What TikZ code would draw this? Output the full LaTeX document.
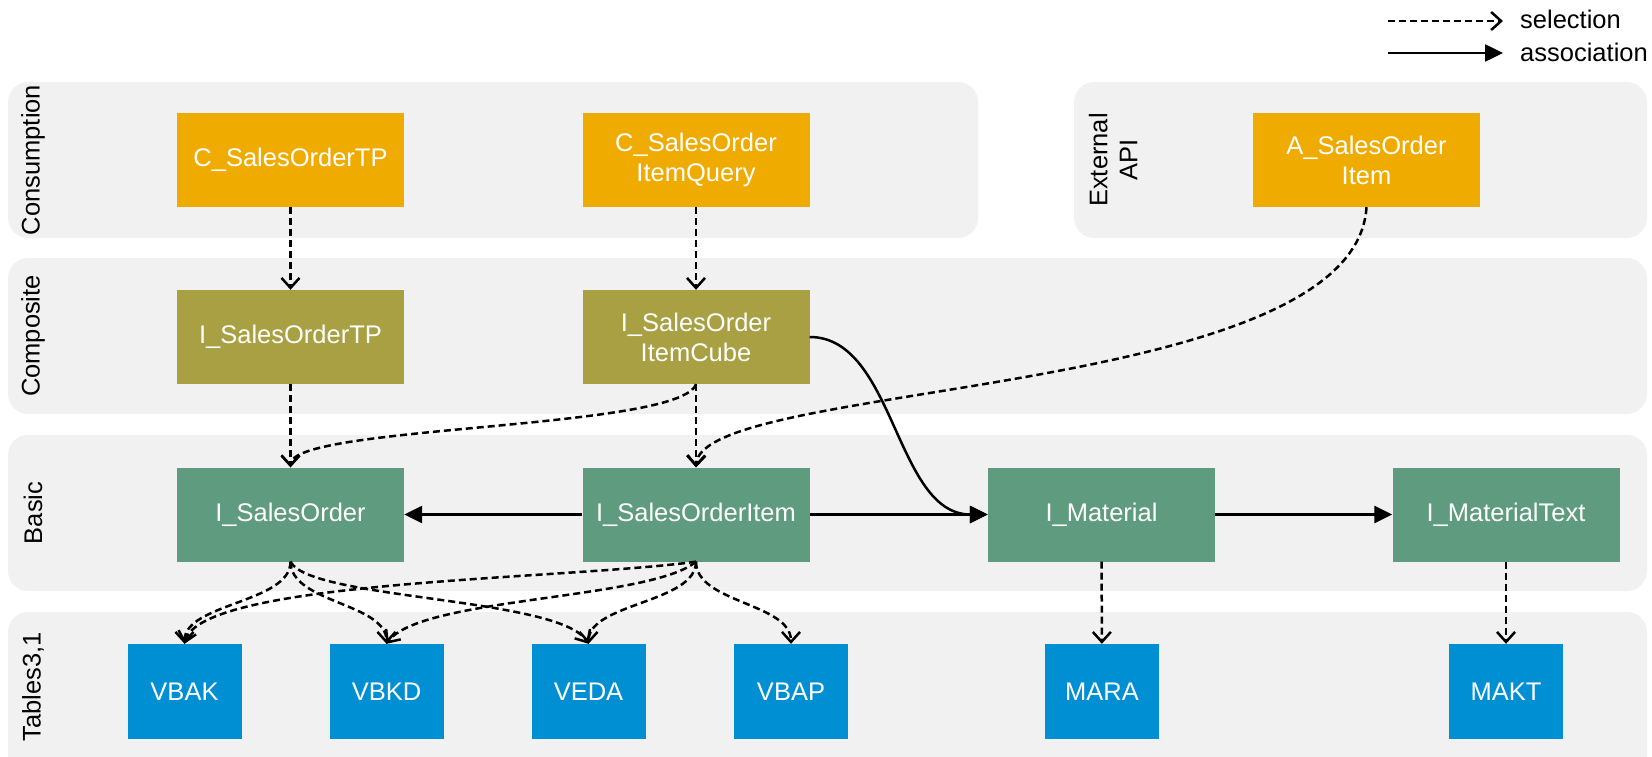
\documentclass[tikz,border=0pt]{standalone}
\usepackage{fontspec}
\setmainfont{Liberation Sans}
\usetikzlibrary{arrows.meta}
\definecolor{panelgray}{HTML}{F1F1F1}
\definecolor{consorange}{HTML}{F0AB00}
\definecolor{compolive}{HTML}{A8A042}
\definecolor{basicgreen}{HTML}{5F9B7E}
\definecolor{tblblue}{HTML}{008FD3}
\newcommand\bxfont{\fontsize{25.5}{30}\selectfont}
\tikzset{
  panel/.style={fill=panelgray, draw=none, rounded corners=20pt},
  nodebox/.style={minimum width=227pt, minimum height=94pt, inner sep=0pt, text=white, font=\bxfont, align=center, draw=none},
  cons/.style={nodebox, fill=consorange},
  comp/.style={nodebox, fill=compolive},
  basicbox/.style={nodebox, fill=basicgreen},
  tbl/.style={nodebox, fill=tblblue, minimum width=114pt, minimum height=95pt},
  layerlabel/.style={rotate=90, font=\bxfont, text=black, align=center, inner sep=0pt},
  legendtext/.style={font=\bxfont, text=black, inner sep=0pt},
  sel/.style={line width=2.5pt, dash pattern=on 7pt off 4pt, -{Straight Barb[length=10pt,width=18pt,line width=2.5pt]}},
  assoc/.style={line width=2.5pt, -{Triangle[length=18pt,width=17pt]}}
}
\begin{document}
\begin{tikzpicture}[x=1pt,y=-1pt]
\useasboundingbox (0,0) rectangle (1652,757);
\clip (0,0) rectangle (1652,757);
% panels
\fill[panel] (8,82) rectangle (978,238);
\fill[panel] (1074,82) rectangle (1647,238);
\fill[panel] (8,258) rectangle (1647,414);
\fill[panel] (8,435) rectangle (1647,591);
\fill[panel] (8,612) rectangle (1647,800);
% layer labels
\node[layerlabel] (lcons) at (33,160) {Consumption};
\node[layerlabel] (lcomp) at (33,336) {Composite};
\node[layerlabel] (lbasic) at (33,513) {Basic};
\node[layerlabel] (ltab) at (33,687) {Tables3,1};
\node[layerlabel] (lapi) at (1113,160) {External\\API};
% legend
\coordinate (sels) at (1388,21);
\coordinate (sele) at (1503,21);
\coordinate (asss) at (1388,53);
\coordinate (asse) at (1503,53);
\draw[sel] (sels) -- (sele);
\draw[assoc] (asss) -- (asse);
\node[legendtext, anchor=base west] (selt) at (1520,29) {selection};
\node[legendtext, anchor=base west] (asst) at (1520,62) {association};
% nodes
\node[cons] (csotp) at (290.5,160) {C\_SalesOrderTP};
\node[cons] (csoiq) at (696,160) {C\_SalesOrder\\ItemQuery};
\node[cons] (asoi) at (1366.5,160) {A\_SalesOrder\\Item};
\node[comp] (isotp) at (290.5,337) {I\_SalesOrderTP};
\node[comp] (cube) at (696,337) {I\_SalesOrder\\ItemCube};
\node[basicbox] (iso) at (290.5,514.5) {I\_SalesOrder};
\node[basicbox] (isoi) at (696,514.5) {I\_SalesOrderItem};
\node[basicbox] (imat) at (1101.5,514.5) {I\_Material};
\node[basicbox] (imatt) at (1506,514.5) {I\_MaterialText};
\node[tbl] (vbak) at (184.5,691.5) {VBAK};
\node[tbl] (vbkd) at (386.5,691.5) {VBKD};
\node[tbl] (veda) at (588.5,691.5) {VEDA};
\node[tbl] (vbap) at (791,691.5) {VBAP};
\node[tbl] (mara) at (1102,691.5) {MARA};
\node[tbl] (makt) at (1506,691.5) {MAKT};
% straight selections
\draw[sel] (csotp) -- (isotp);
\draw[sel] (csoiq) -- (cube);
\draw[sel] (isotp) -- (iso);
\draw[sel] (cube) -- (isoi);
\draw[sel] (imat) -- (mara);
\draw[sel] (imatt) -- (makt);
% curved selections
\draw[sel] (cube.south) .. controls (680,430) and (290.5,425) .. (iso.north);
\draw[sel] (asoi.south) .. controls (1355,400) and (700,380) .. (isoi.north);
\draw[sel] (iso.south) .. controls (290.5,603) and (184.5,603) .. (vbak.north);
\draw[sel] (iso.south) .. controls (290.5,603) and (386.5,603) .. (vbkd.north);
\draw[sel] (iso.south) .. controls (310,600) and (560,597) .. (veda.north);
\draw[sel] (isoi.south) .. controls (560,580) and (200,580) .. (vbak.north);
\draw[sel] (isoi.south) .. controls (650,600) and (420,597) .. (vbkd.north);
\draw[sel] (isoi.south) .. controls (696,603) and (588.5,603) .. (veda.north);
\draw[sel] (isoi.south) .. controls (696,603) and (791,603) .. (vbap.north);
% associations
\draw[assoc] (isoi) -- (iso);
\draw[assoc] (isoi) -- (imat);
\draw[assoc] (imat) -- (imatt);
\draw[assoc] (cube.east) .. controls (895,337) and (895,514.5) .. (imat.west);
\end{tikzpicture}
\end{document}
